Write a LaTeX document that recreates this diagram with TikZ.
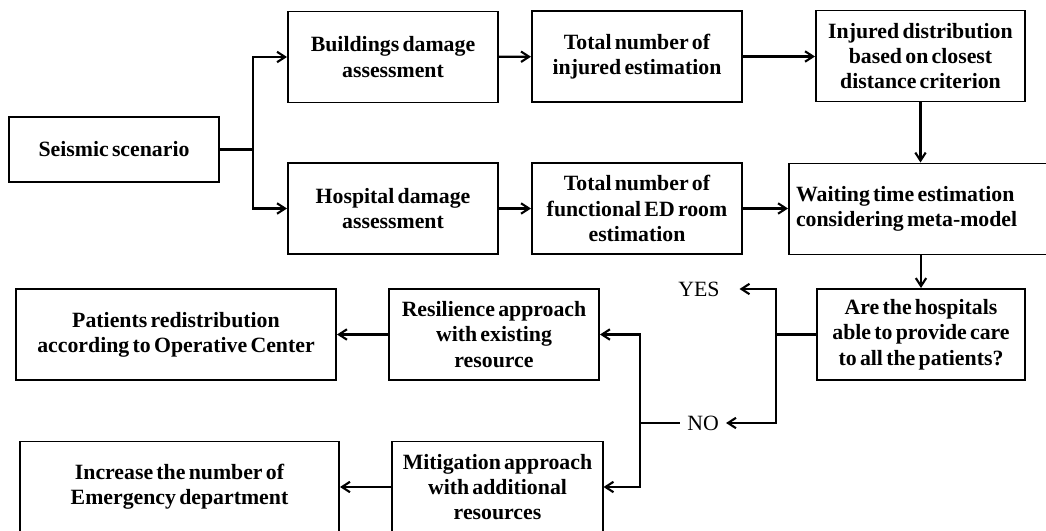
\documentclass[tikz,border=0pt]{standalone}
\usepackage{fontspec}
\setmainfont{Liberation Serif}[WordSpace=0.6]
\usepackage{tikz}
\usetikzlibrary{arrows.meta,positioning,calc}

\begin{document}
\begin{tikzpicture}[
    x=0.025cm, y=-0.025cm,
    flowbox/.style={rectangle, draw=black, line width=1.4pt, fill=white,
        minimum width=5.25cm, minimum height=2.275cm, align=center,
        font=\fontsize{15.5}{18}\selectfont\bfseries, inner sep=3pt},
    widebox/.style={flowbox, minimum width=8cm},
    lbl/.style={font=\fontsize{15.5}{18}\selectfont, inner xsep=5pt, inner ysep=2pt},
    arr/.style={-{Straight Barb[length=2mm,width=2.6mm]}, line width=1.5pt},
    seg/.style={line width=1.5pt}
]
    \useasboundingbox (0,0) rectangle (1046,531);
    \clip (0,0) rectangle (1046,531);

    % first two rows
    \node[flowbox, minimum height=1.625cm] (seis) at (114,149.5) {Seismic scenario};
    \node[flowbox] (build) at (393,57) {Buildings damage\\assessment};
    \node[flowbox] (hosp) at (393,208.5) {Hospital damage\\assessment};
    \node[flowbox] (totinj) at (637,56.5) {Total number of\\injured estimation};
    \node[flowbox] (totfun) at (637,208.5) {Total number of\\functional ED room\\estimation};
    \node[flowbox, minimum width=5.225cm] (injdist) at (920.5,56) {Injured distribution\\based on closest\\distance criterion};
    \node[flowbox, anchor=west, minimum width=0pt, text width=6.5cm, align=flush left, inner xsep=5pt] (wait) at (788,209) {Waiting time estimation\\considering meta-model};

    % decision
    \node[flowbox, minimum width=5.2cm] (are) at (921,334.5) {Are the hospitals\\able to provide care\\to all the patients?};
    \node[lbl, inner xsep=14pt] (yes) at (699,289) {YES};
    \node[lbl] (no) at (703,423) {NO};

    % outcomes
    \node[flowbox] (resil) at (494,334.5) {Resilience approach\\with existing\\resource};
    \node[widebox] (patients) at (176,334.5) {Patients redistribution\\according to Operative Center};
    \node[flowbox] (mitig) at (497.5,487) {Mitigation approach\\with additional\\resources};
    \node[widebox, minimum width=7.975cm] (incr) at (179.5,487) {Increase the number of\\Emergency department};

    \coordinate (fork) at (253,149.5);
    \coordinate (split) at (776,334.5);
    \coordinate (nofork) at (640,423);

    \draw[seg] (seis.east) -- (fork);
    \draw[arr] (fork) |- (build.west);
    \draw[arr] (fork) |- (hosp.west);
    \draw[arr] (build) -- (totinj);
    \draw[arr] (hosp) -- (totfun);
    \draw[arr] (totinj.east) -- (totinj.east -| injdist.west);
    \draw[arr] (totfun.east) -- (totfun.east -| wait.west);
    \draw[arr] (injdist.south) -- (injdist.south |- wait.north);
    \draw[arr] (are.north |- wait.south) -- (are.north);

    \draw[seg] (are.west) -- (split);
    \draw[arr] (split) |- (yes);
    \draw[arr] (split) |- (no);
    \draw[seg] (no.west) -- (nofork);
    \draw[arr] (nofork) |- (resil.east);
    \draw[arr] (nofork) |- (mitig.east);
    \draw[arr] (resil) -- (patients);
    \draw[arr] (mitig) -- (incr);
\end{tikzpicture}
\end{document}
